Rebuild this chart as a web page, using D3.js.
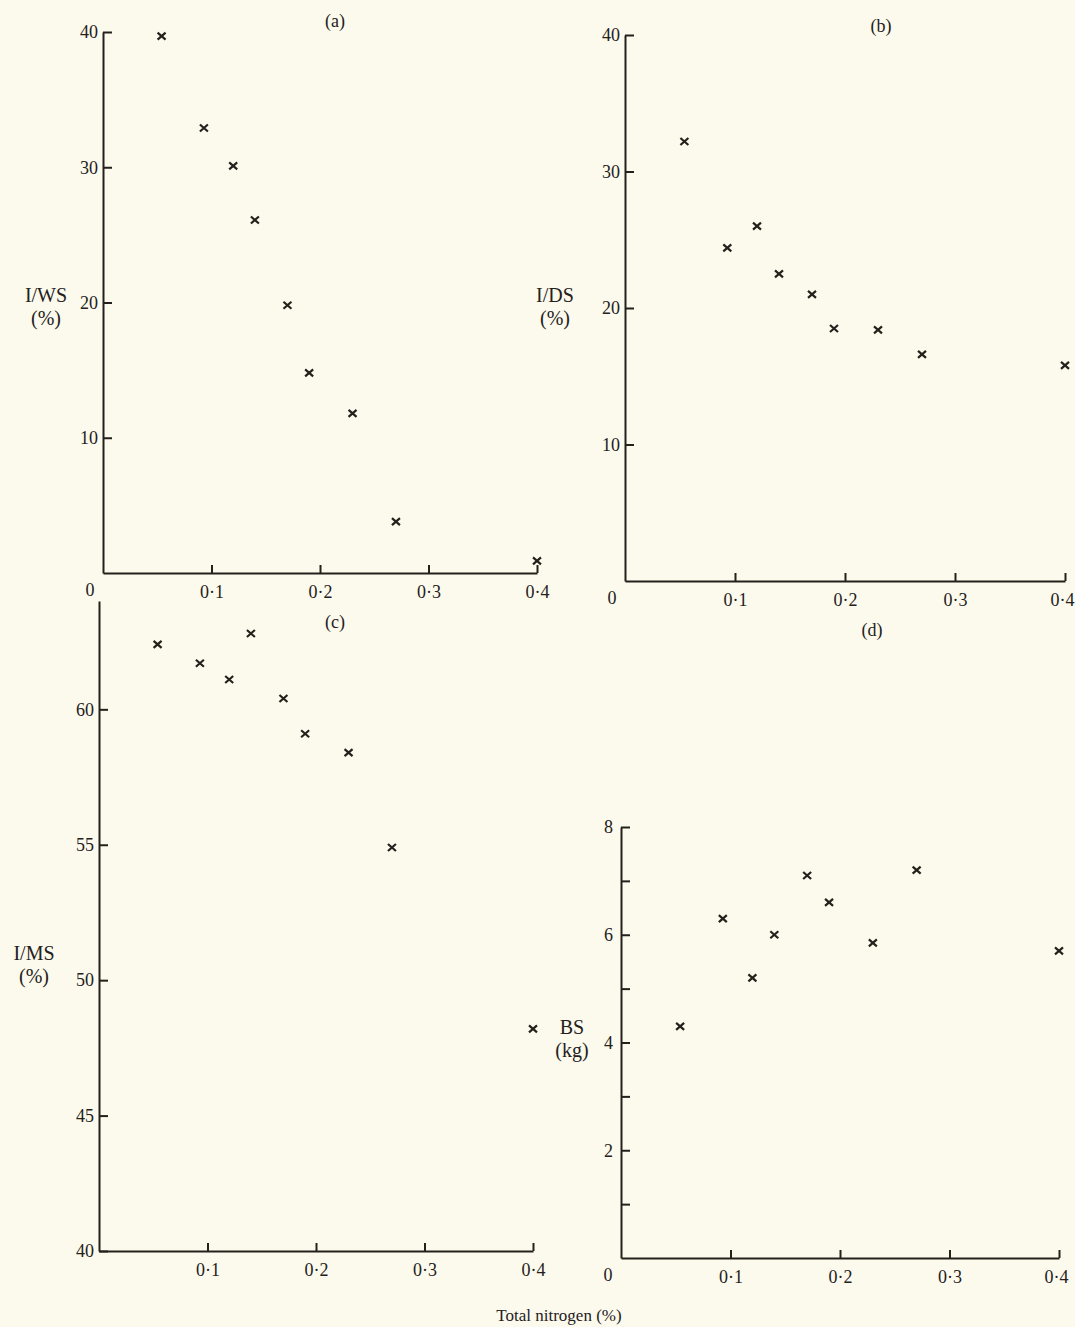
<!DOCTYPE html>
<html>
<head>
<meta charset="utf-8">
<script src="https://cdn.jsdelivr.net/npm/d3@7"></script>
<style>
  body { margin: 0; background: #fcfaec; }
  svg { display: block; font-family: "Liberation Serif", "DejaVu Serif", serif; }
  .axis path, .axis line { stroke: #24211c; stroke-width: 2; }
  .axis text { fill: #24211c; font-size: 18px; }
  .lbl { fill: #24211c; font-size: 18px; }
</style>
</head>
<body>
<div id="chart"></div>
<script>
// total nitrogen (%) of the nine samples, shared by all four panels
var nitrogen = [0.054, 0.093, 0.12, 0.14, 0.17, 0.19, 0.23, 0.27, 0.40];
// (a) I/WS (%)
var iws = [39.7, 32.9, 30.1, 26.1, 19.8, 14.8, 11.8, 3.8, 0.9];
// (b) I/DS (%)
var ids = [32.2, 24.4, 26.0, 22.5, 21.0, 18.5, 18.4, 16.6, 15.8];
// (c) I/MS (%)
var ims = [62.4, 61.7, 61.1, 62.8, 60.4, 59.1, 58.4, 54.9, 48.2];
// (d) BS (kg)
var bs = [4.3, 6.3, 5.2, 6.0, 7.1, 6.6, 5.85, 7.2, 5.7];

var xTicks = [0.1, 0.2, 0.3, 0.4];

var width = 1075,
    height = 1327;
var svg = d3.select("#chart").append("svg")
            .attr("width", width)
            .attr("height", height);

var fmtX = function(d){ return d3.format(".1f")(d).replace(".", "\u00b7"); };

function panel(o) {
    var x = d3.scaleLinear().domain([0, 0.4]).range([o.left, o.right]);
    var y = d3.scaleLinear().domain(o.yDomain).range([o.bottom, o.top]);

    var gx = svg.append("g")
       .attr("class", "axis")
       .attr("transform", "translate(0," + o.bottom + ")")
       .call(d3.axisBottom(x).tickValues(xTicks).tickFormat(fmtX)
               .tickSizeInner(-8).tickSizeOuter(0).tickPadding(12));
    gx.attr("font-family", null).attr("font-size", null);

    // keep the last label inside the page at the right edge
    if (o.right > width - 20) {
        gx.selectAll(".tick:last-of-type text")
          .attr("text-anchor", "end").attr("x", 9);
    }

    var gy = svg.append("g")
       .attr("class", "axis")
       .attr("transform", "translate(" + o.left + ",0)")
       .call(d3.axisLeft(y).tickValues(o.yTicks).tickFormat(o.yFormat || d3.format("d"))
               .tickSizeInner(-9).tickSizeOuter(0).tickPadding(o.yPad || 5));
    gy.attr("font-family", null).attr("font-size", null);

    if (o.zero) {
        svg.append("text").attr("class", "lbl")
           .attr("x", x(0) - 13).attr("y", y(o.yDomain[0]) + 23)
           .attr("text-anchor", "middle").text("0");
    }

    svg.append("g").selectAll("path")
       .data(o.values)
       .join("path")
       .attr("transform", function(d, i){ return "translate(" + x(nitrogen[i]) + "," + y(d) + ")"; })
       .attr("d", "M-4,-3.5L4,3.5M-4,3.5L4,-3.5")
       .attr("stroke", "#24211c")
       .attr("stroke-width", 2.2)
       .attr("fill", "none");

    svg.append("text").attr("class", "lbl")
       .attr("x", o.title[0]).attr("y", o.title[1])
       .attr("text-anchor", "middle").text(o.name);

    svg.append("text").attr("class", "lbl")
       .attr("x", o.ylab[0]).attr("y", o.ylab[1])
       .attr("text-anchor", "middle").style("font-size", "20px")
       .text(o.ylabel[0]);
    svg.append("text").attr("class", "lbl")
       .attr("x", o.ylab[0]).attr("y", o.ylab[1] + 23)
       .attr("text-anchor", "middle").style("font-size", "20px")
       .text(o.ylabel[1]);
}

panel({ name: "(a)", values: iws, left: 103, right: 537, top: 32, bottom: 573,
        yDomain: [0, 40], yTicks: [10, 20, 30, 40], zero: true,
        title: [335, 27], ylab: [46, 302], ylabel: ["I/WS", "(%)"] });

panel({ name: "(b)", values: ids, left: 625, right: 1065, top: 35, bottom: 581,
        yDomain: [0, 40], yTicks: [10, 20, 30, 40], zero: true,
        title: [881, 32], ylab: [555, 302], ylabel: ["I/DS", "(%)"] });

panel({ name: "(c)", values: ims, left: 99, right: 533, top: 601, bottom: 1251,
        yDomain: [40, 64], yTicks: [40, 45, 50, 55, 60], zero: false,
        title: [335, 628], ylab: [34, 960], ylabel: ["I/MS", "(%)"] });

panel({ name: "(d)", values: bs, left: 621, right: 1059, top: 827, bottom: 1258,
        yDomain: [0, 8], yTicks: [1, 2, 3, 4, 5, 6, 7, 8], zero: true, yPad: 8,
        yFormat: function(d){ return d % 2 === 0 ? d : ""; },
        title: [872, 636], ylab: [572, 1034], ylabel: ["BS", "(kg)"] });

svg.append("text").attr("class", "lbl")
   .attr("x", 559).attr("y", 1321)
   .attr("text-anchor", "middle").style("font-size", "17px")
   .text("Total nitrogen (%)");
</script>
</body>
</html>
